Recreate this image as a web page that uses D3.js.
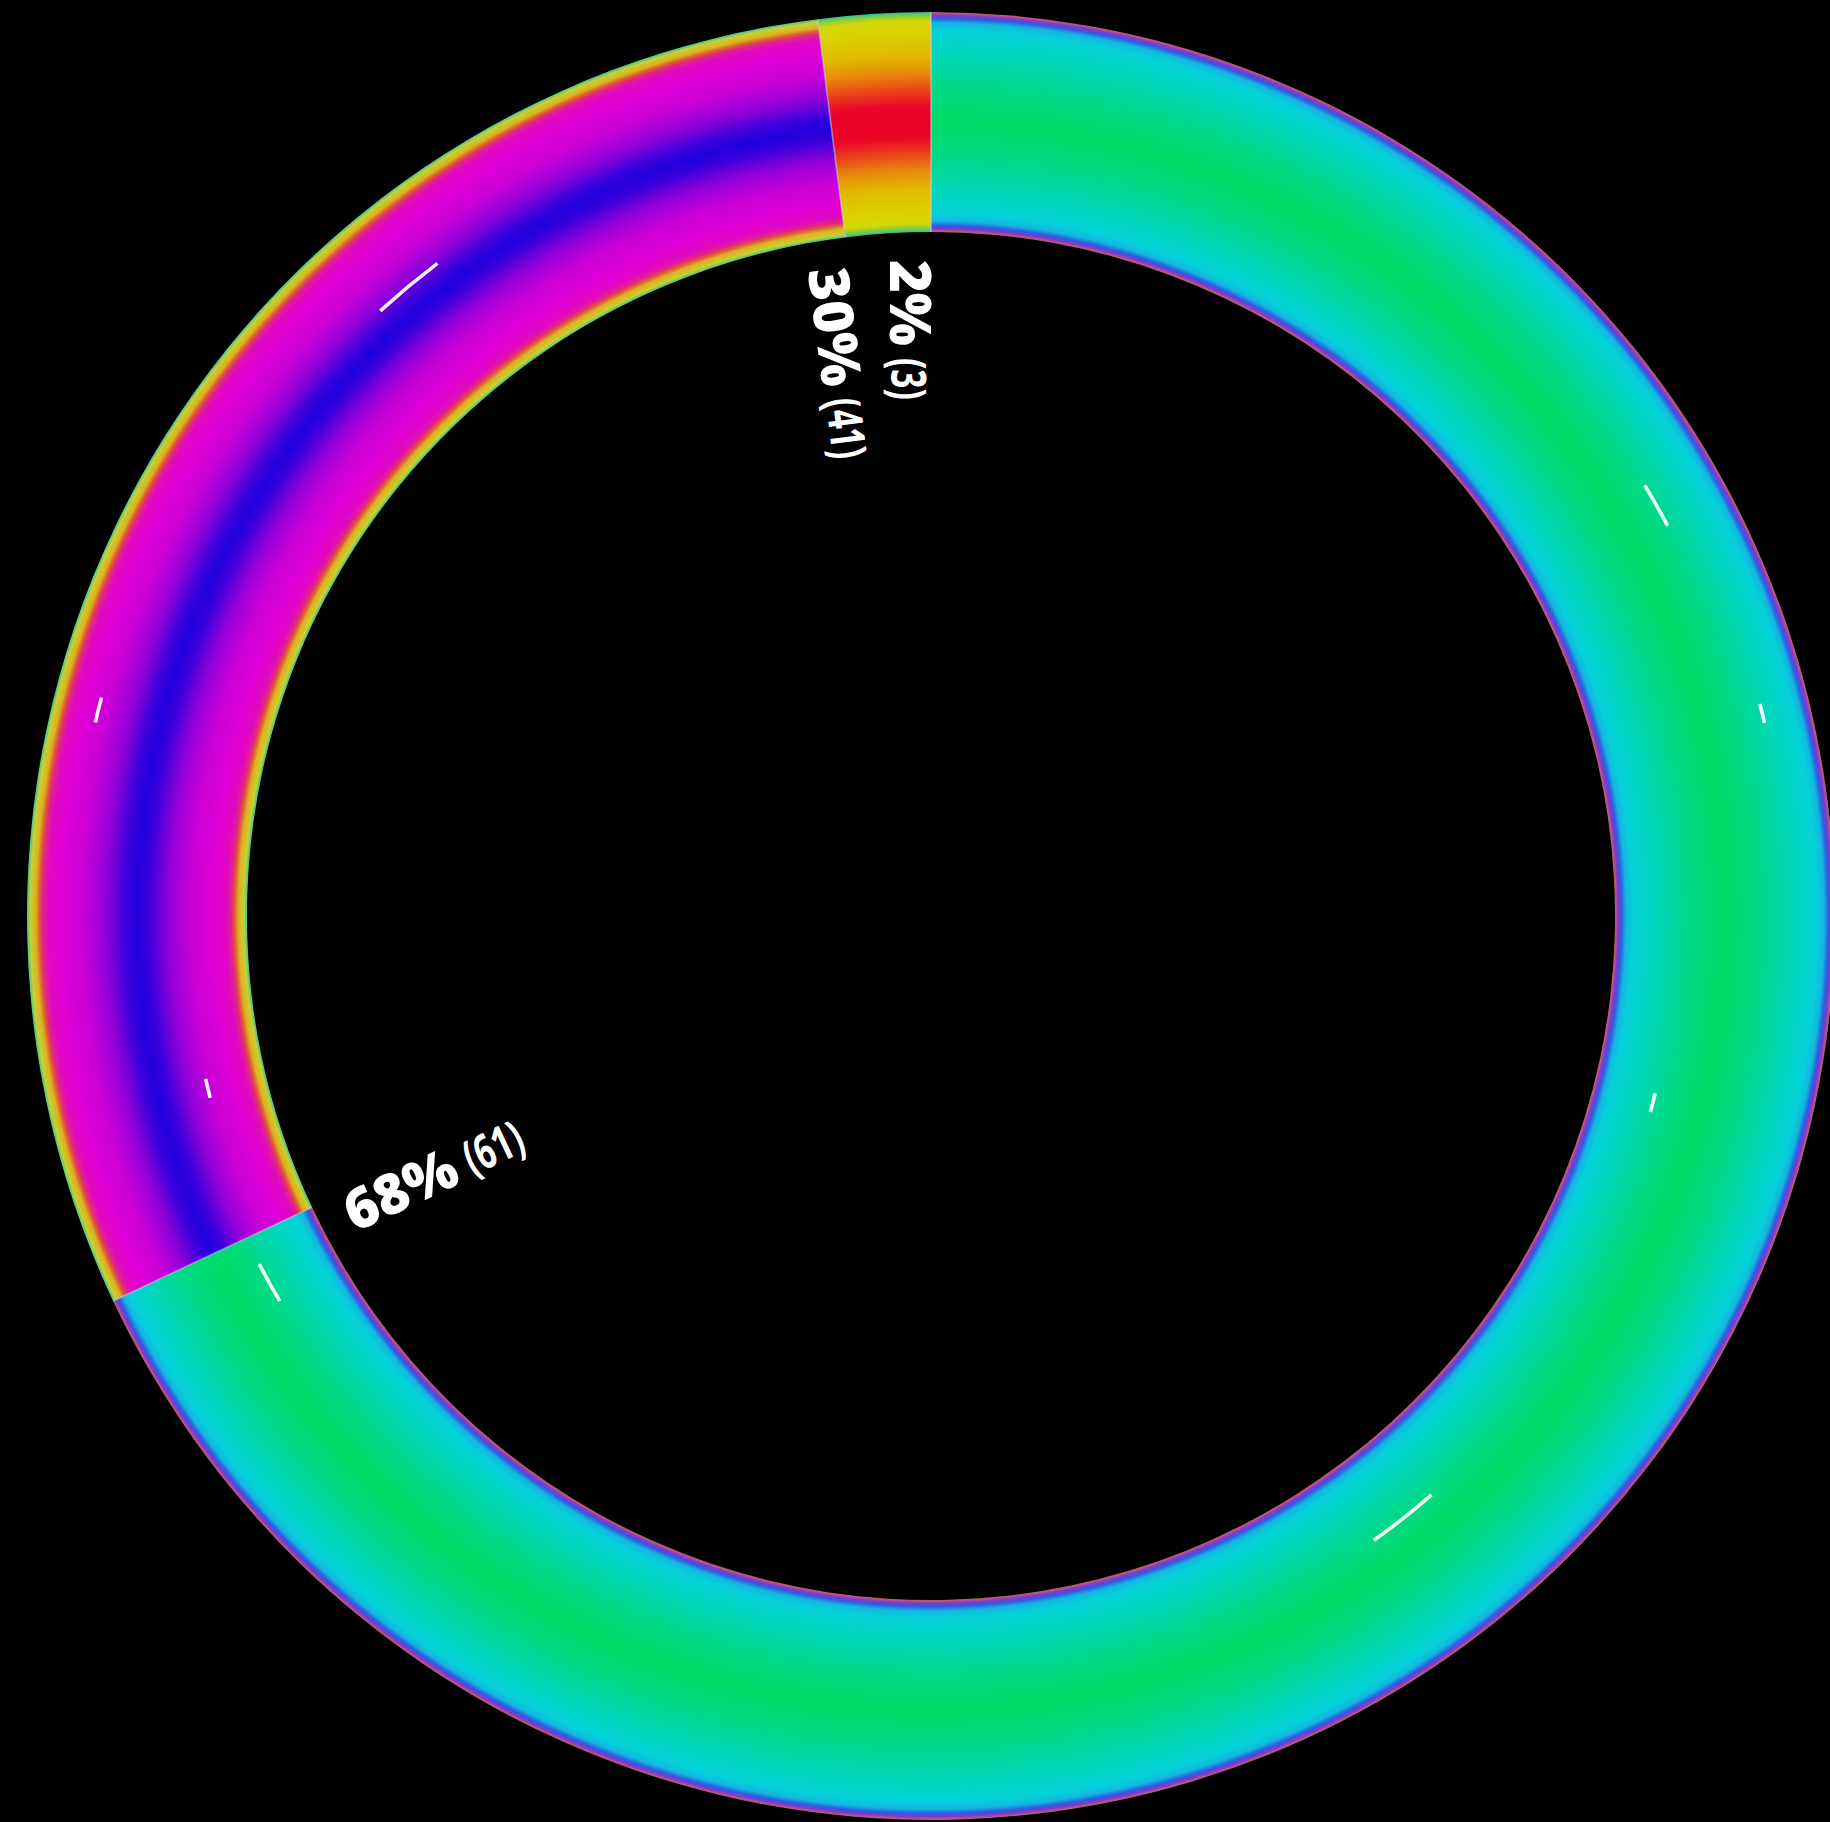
<!DOCTYPE html>
<html>
<head>
<meta charset="utf-8">
<script src="https://cdn.jsdelivr.net/npm/d3@7"></script>
<style>
  html, body { margin: 0; padding: 0; background: #000; }
  svg { display: block; }
</style>
</head>
<body>
<div id="chart"></div>
<script>
// ---- data ----
const categories = ["A", "B", "C"];
const percents   = [68, 30, 2];
const counts     = [61, 41, 3];

// ---- styles (gradient profiles per slice: [distance from band centre, colour]) ----
const profileA = [[0,"#00dc68"],[0.25,"#00da7e"],[0.5,"#00d8a6"],[0.7,"#00d6c6"],[0.84,"#06d0da"],[0.9,"#14b6e0"],[0.94,"#2e5ee0"],[0.97,"#8038d0"],[0.99,"#c05090"],[1,"#a07040"]];
const profileB = [[0,"#2200de"],[0.1,"#3800dc"],[0.28,"#9000d8"],[0.48,"#c800d8"],[0.7,"#e000d4"],[0.81,"#e008c0"],[0.86,"#e02880"],[0.89,"#e06030"],[0.92,"#dcb020"],[0.97,"#c8d030"],[1,"#40c890"]];
const profileC = [[0,"#ea0028"],[0.15,"#ea0828"],[0.3,"#ea4818"],[0.45,"#e88c0c"],[0.6,"#e0b800"],[0.8,"#dcd000"],[0.92,"#d4d808"],[0.96,"#90d030"],[1,"#30c098"]];
const profiles = [profileA, profileB, profileC];

// decorative glints: angle (deg), band position (0 inner..1 outer), arc span (deg)
const glintAngle = [320.3, 283.9, 256.6, 241, 60.5, 76.3, 104.5, 141.9];
const glintBand  = [0.61, 0.79, 0.27, 0.33, 0.68, 0.78, 0.28, 0.37];
const glintSpan  = [5.2, 1.7, 1.5, 3.2, 3.2, 1.3, 1.5, 5.5];

const W = 1830, H = 1822;
const cx = 931, cy = 916;
const rOuter = 904, rInner = 684;

const svg = d3.select("#chart").append("svg")
  .attr("width", W).attr("height", H)
  .style("background", "#000");

const defs = svg.append("defs");
const ratio = rInner / rOuter;

profiles.forEach((prof, i) => {
  const grad = defs.append("radialGradient")
    .attr("id", "grad" + i)
    .attr("gradientUnits", "userSpaceOnUse")
    .attr("cx", 0).attr("cy", 0).attr("r", rOuter).attr("fx", 0).attr("fy", 0);
  const stops = [];
  prof.forEach(([d, c]) => { stops.push([0.5 - d / 2, c]); stops.push([0.5 + d / 2, c]); });
  stops.sort((a, b) => a[0] - b[0]);
  stops.forEach(([t, c]) => {
    grad.append("stop")
      .attr("offset", (ratio + t * (1 - ratio)) * 100 + "%")
      .attr("stop-color", c);
  });
});

const g = svg.append("g").attr("transform", `translate(${cx},${cy})`);

const pie = d3.pie().sort(null).value(d => d.pct);
const data = categories.map((c, i) => ({ cat: c, pct: percents[i], count: counts[i], idx: i }));
const arcs = pie(data);

const arc = d3.arc().innerRadius(rInner).outerRadius(rOuter);

g.selectAll("path.slice")
  .data(arcs)
  .join("path")
  .attr("class", "slice")
  .attr("d", arc)
  .attr("fill", d => `url(#grad${d.data.idx})`);

// slice separators
g.selectAll("line.sep")
  .data(arcs)
  .join("line")
  .attr("class", "sep")
  .attr("x1", d => rInner * Math.sin(d.startAngle))
  .attr("y1", d => -rInner * Math.cos(d.startAngle))
  .attr("x2", d => rOuter * Math.sin(d.startAngle))
  .attr("y2", d => -rOuter * Math.cos(d.startAngle))
  .attr("stroke", "rgba(200,220,240,0.55)")
  .attr("stroke-width", 1.6);

// glints
const toRad = Math.PI / 180;
g.selectAll("path.glint")
  .data(glintAngle.map((a, i) => ({ a, b: glintBand[i], s: glintSpan[i] })))
  .join("path")
  .attr("class", "glint")
  .attr("d", d => {
    const r = rInner + d.b * (rOuter - rInner);
    return d3.arc()({
      innerRadius: r - 1.8, outerRadius: r + 1.8,
      startAngle: (d.a - d.s / 2) * toRad, endAngle: (d.a + d.s / 2) * toRad,
      cornerRadius: 1.8
    });
  })
  .attr("fill", "#fff")
  .attr("opacity", 0.95);

// labels: at each slice's end angle, radial, reading toward centre
const labelR = rInner - 28;
const labelG = g.selectAll("g.lbl")
  .data(arcs)
  .join("g")
  .attr("class", "lbl")
  .attr("transform", d => {
    const a = d.endAngle;
    const x = labelR * Math.sin(a), y = -labelR * Math.cos(a);
    return `translate(${x},${y}) rotate(${a / toRad + 90})`;
  });

labelG.append("text")
  .attr("font-family", "'Open Sans', 'DejaVu Sans', sans-serif")
  .attr("font-weight", 800)
  .attr("font-size", 56)
  .attr("dy", "0.74em")
  .attr("fill", "#fff")
  .text(d => d.data.pct + "%");

labelG.each(function () {
  const grp = d3.select(this);
  const w = grp.select("text").node().getComputedTextLength();
  grp.append("text")
    .attr("transform", `translate(${w + 12},0) scale(0.7,1)`)
    .attr("font-family", "'Open Sans', 'DejaVu Sans', sans-serif")
    .attr("font-weight", 700)
    .attr("font-size", 48)
    .attr("dy", "40")
    .attr("fill", "#fff")
    .text(d => "(" + d.data.count + ")");
});
</script>
</body>
</html>
